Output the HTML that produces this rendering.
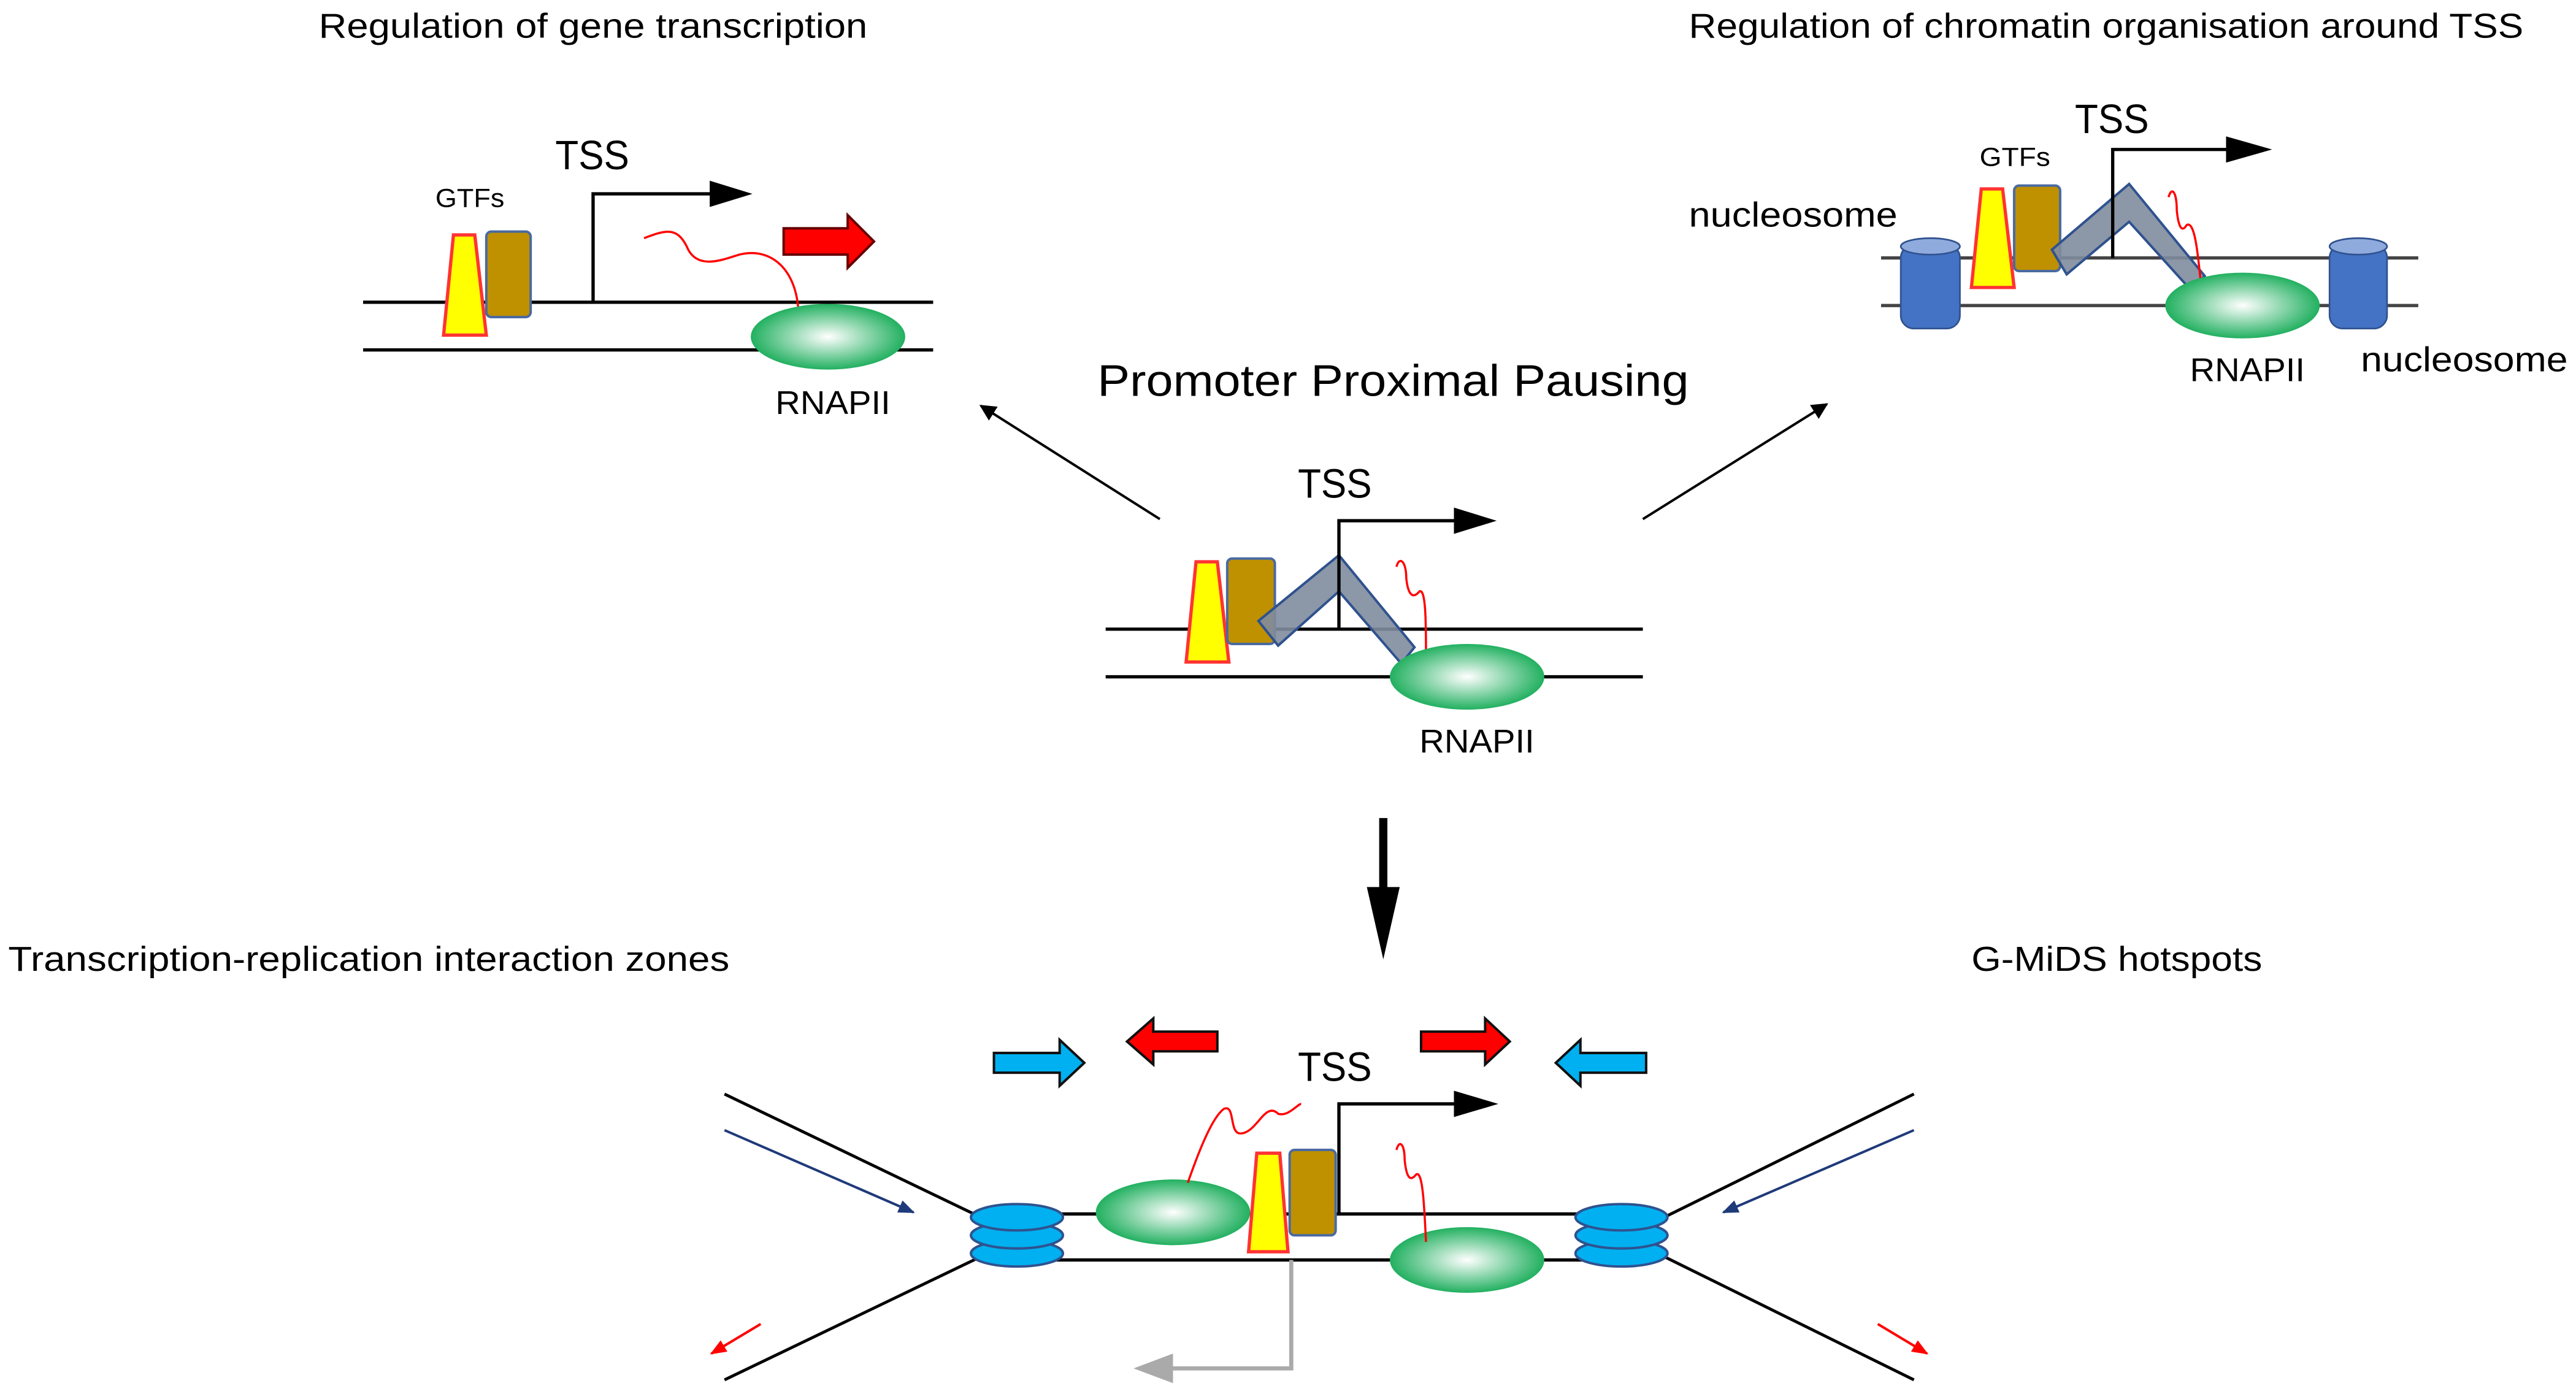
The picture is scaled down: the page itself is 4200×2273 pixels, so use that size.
<!DOCTYPE html>
<html><head><meta charset="utf-8"><style>
html,body{margin:0;padding:0;background:#fff;}
svg{display:block;}
text{font-family:"Liberation Sans",sans-serif;fill:#000;}
</style></head><body>
<svg width="4200" height="2273" viewBox="0 0 1568 848.6" xmlns="http://www.w3.org/2000/svg">
<defs>
<radialGradient id="g" cx="50%" cy="50%" r="50%"><stop offset="0" stop-color="#fff"/><stop offset="1" stop-color="#22b060"/></radialGradient>
<linearGradient id="cyl" x1="0" x2="1"><stop offset="0" stop-color="#4472c4"/><stop offset="1" stop-color="#4472c4"/></linearGradient>
<marker id="ah" markerWidth="10" markerHeight="10" refX="9" refY="5" orient="auto" markerUnits="userSpaceOnUse"><path d="M0,0 L10,5 L0,10 z" fill="#000"/></marker>
<marker id="ahn" markerWidth="10" markerHeight="10" refX="9" refY="5" orient="auto" markerUnits="userSpaceOnUse"><path d="M0,1 L10,5 L0,9 z" fill="#1f3a7a"/></marker>
<marker id="ahr" markerWidth="10" markerHeight="10" refX="9" refY="5" orient="auto" markerUnits="userSpaceOnUse"><path d="M0,1 L10,5 L0,9 z" fill="#f00"/></marker>
</defs>

<!-- titles -->
<text x="194" y="23" font-size="21" textLength="334" lengthAdjust="spacingAndGlyphs">Regulation of gene transcription</text>
<text x="1028" y="23" font-size="21" textLength="508" lengthAdjust="spacingAndGlyphs">Regulation of chromatin organisation around TSS</text>
<text x="668" y="241" font-size="27" textLength="360" lengthAdjust="spacingAndGlyphs">Promoter Proximal Pausing</text>
<text x="5" y="591" font-size="21" textLength="439" lengthAdjust="spacingAndGlyphs">Transcription-replication interaction zones</text>
<text x="1200" y="591" font-size="21" textLength="177" lengthAdjust="spacingAndGlyphs">G-MiDS hotspots</text>

<!-- ===== top-left ===== -->
<line x1="221" y1="184" x2="568" y2="184" stroke="#000" stroke-width="2"/>
<line x1="221" y1="213" x2="568" y2="213" stroke="#000" stroke-width="2"/>
<polygon points="276,143 289,143 296,204 270,204" fill="#ff0" stroke="#f33" stroke-width="2"/>
<rect x="296" y="141" width="27" height="52" rx="3" fill="#bf9000" stroke="#4a6aa0" stroke-width="1.5"/>
<text x="265" y="126" font-size="16" textLength="42" lengthAdjust="spacingAndGlyphs">GTFs</text>
<text x="338" y="103" font-size="25" textLength="45" lengthAdjust="spacingAndGlyphs">TSS</text>
<polyline points="361,184 361,118 436,118" fill="none" stroke="#000" stroke-width="2"/>
<polygon points="432,110 458,118 432,126" fill="#000"/>
<path d="M392,145 C405,140 412,138 418,150 C424,165 440,158 450,155 C470,150 485,165 486,190" fill="none" stroke="#f00" stroke-width="1.3"/>
<polygon points="477,139 516,139 516,131 532,147 516,163 516,155 477,155" fill="#f00" stroke="#600" stroke-width="1.5"/>
<ellipse cx="504" cy="205" rx="47" ry="20" fill="url(#g)"/>
<text x="472" y="252" font-size="20" textLength="70" lengthAdjust="spacingAndGlyphs">RNAPII</text>

<!-- diagonal arrows -->
<line x1="706" y1="316" x2="597" y2="247" stroke="#000" stroke-width="1.5" marker-end="url(#ah)"/>
<line x1="1000" y1="316" x2="1112" y2="246" stroke="#000" stroke-width="1.5" marker-end="url(#ah)"/>

<!-- ===== center ===== -->
<line x1="673" y1="383" x2="1000" y2="383" stroke="#000" stroke-width="2"/>
<line x1="673" y1="412" x2="1000" y2="412" stroke="#000" stroke-width="2"/>
<polygon points="728,342 741,342 748,403 722,403" fill="#ff0" stroke="#f33" stroke-width="2"/>
<rect x="747" y="340" width="29" height="52" rx="3" fill="#bf9000" stroke="#4a6aa0" stroke-width="1.5"/>
<polygon points="766,378 815,338 861,394 853,404 815,360 778,393" fill="#7f8c9d" fill-opacity="0.9" stroke="#2f528f" stroke-width="1.5"/>
<text x="790" y="303" font-size="25" textLength="45" lengthAdjust="spacingAndGlyphs">TSS</text>
<polyline points="815,383 815,317 888,317" fill="none" stroke="#000" stroke-width="2"/>
<polygon points="885,309 911,317 885,325" fill="#000"/>
<path d="M850,345 C852,338 856,342 856,352 C857,362 860,365 864,360 C868,358 868,380 868,400" fill="none" stroke="#f00" stroke-width="1.3"/>
<ellipse cx="893" cy="412" rx="47" ry="20" fill="url(#g)"/>
<text x="864" y="458" font-size="20" textLength="70" lengthAdjust="spacingAndGlyphs">RNAPII</text>

<!-- big down arrow -->
<line x1="842" y1="498" x2="842" y2="545" stroke="#000" stroke-width="5"/>
<polygon points="832,540 852,540 842,584" fill="#000"/>

<!-- ===== top-right ===== -->
<line x1="1145" y1="157" x2="1472" y2="157" stroke="#444" stroke-width="2"/>
<line x1="1145" y1="186" x2="1472" y2="186" stroke="#444" stroke-width="2"/>
<g>
<rect x="1157" y="149" width="36" height="51" rx="8" fill="#4472c4" stroke="#2f528f" stroke-width="1"/>
<ellipse cx="1175" cy="150" rx="18" ry="5" fill="#8faadc" stroke="#2f528f" stroke-width="1"/>
<rect x="1418" y="149" width="35" height="51" rx="8" fill="#4472c4" stroke="#2f528f" stroke-width="1"/>
<ellipse cx="1435.5" cy="150" rx="17.5" ry="5" fill="#8faadc" stroke="#2f528f" stroke-width="1"/>
</g>
<polygon points="1206,115 1219,115 1226,175 1200,175" fill="#ff0" stroke="#f33" stroke-width="2"/>
<rect x="1226" y="113" width="28" height="52" rx="3" fill="#bf9000" stroke="#4a6aa0" stroke-width="1.5"/>
<polygon points="1249,152 1296,112 1342,168 1334,177 1296,135 1258,167" fill="#7f8c9d" fill-opacity="0.9" stroke="#2f528f" stroke-width="1.5"/>
<text x="1205" y="101" font-size="16" textLength="43" lengthAdjust="spacingAndGlyphs">GTFs</text>
<text x="1263" y="81" font-size="25" textLength="45" lengthAdjust="spacingAndGlyphs">TSS</text>
<polyline points="1286,157 1286,91 1358,91" fill="none" stroke="#000" stroke-width="2"/>
<polygon points="1355,83 1383,91 1355,99" fill="#000"/>
<path d="M1320,120 C1322,113 1325,117 1325,128 C1326,138 1328,142 1331,137 C1336,134 1338,155 1340,176" fill="none" stroke="#f00" stroke-width="1.3"/>
<ellipse cx="1365" cy="186" rx="47" ry="20" fill="url(#g)"/>
<text x="1333" y="232" font-size="20" textLength="70" lengthAdjust="spacingAndGlyphs">RNAPII</text>
<text x="1028" y="138" font-size="21" textLength="127" lengthAdjust="spacingAndGlyphs">nucleosome</text>
<text x="1437" y="226" font-size="21" textLength="126" lengthAdjust="spacingAndGlyphs">nucleosome</text>

<!-- ===== bottom ===== -->
<!-- block arrows -->
<polygon points="605,641 645,641 645,633 660,647 645,661 645,653 605,653" fill="#00b0f0" stroke="#111" stroke-width="1.5"/>
<polygon points="741,628 702,628 702,620 686,634 702,648 702,640 741,640" fill="#f00" stroke="#111" stroke-width="1.5"/>
<polygon points="865,628 904,628 904,620 919,634 904,648 904,640 865,640" fill="#f00" stroke="#111" stroke-width="1.5"/>
<polygon points="1002,641 962,641 962,633 947,647 962,661 962,653 1002,653" fill="#00b0f0" stroke="#111" stroke-width="1.5"/>
<text x="790" y="658" font-size="25" textLength="45" lengthAdjust="spacingAndGlyphs">TSS</text>

<!-- fork lines -->
<line x1="441" y1="666" x2="597" y2="741" stroke="#000" stroke-width="1.8"/>
<line x1="441" y1="840" x2="597" y2="765" stroke="#000" stroke-width="1.8"/>
<line x1="1013" y1="741" x2="1165" y2="666" stroke="#000" stroke-width="1.8"/>
<line x1="1013" y1="765" x2="1165" y2="840" stroke="#000" stroke-width="1.8"/>
<line x1="630" y1="739" x2="975" y2="739" stroke="#000" stroke-width="2"/>
<line x1="630" y1="767" x2="975" y2="767" stroke="#000" stroke-width="2"/>
<line x1="441" y1="688" x2="556" y2="738" stroke="#1f3a7a" stroke-width="1.5" marker-end="url(#ahn)"/>
<line x1="1165" y1="688" x2="1049" y2="738" stroke="#1f3a7a" stroke-width="1.5" marker-end="url(#ahn)"/>
<line x1="463" y1="806" x2="433" y2="824" stroke="#f00" stroke-width="1.5" marker-end="url(#ahr)"/>
<line x1="1143" y1="806" x2="1173" y2="824" stroke="#f00" stroke-width="1.5" marker-end="url(#ahr)"/>

<!-- stacked blue -->
<g fill="#00b0f0" stroke="#2f528f" stroke-width="1.5">
<ellipse cx="619" cy="763" rx="28" ry="8"/><ellipse cx="619" cy="752" rx="28" ry="8"/><ellipse cx="619" cy="741" rx="28" ry="8"/>
<ellipse cx="987" cy="763" rx="28" ry="8"/><ellipse cx="987" cy="752" rx="28" ry="8"/><ellipse cx="987" cy="741" rx="28" ry="8"/>
</g>

<!-- grey arrow -->
<polyline points="786,767 786,833 712,833" fill="none" stroke="#aaa" stroke-width="2.5"/>
<polygon points="714,824 690,833 714,842" fill="#aaa"/>

<ellipse cx="714" cy="738" rx="47" ry="20" fill="url(#g)"/>
<ellipse cx="893" cy="767" rx="47" ry="20" fill="url(#g)"/>
<polygon points="765,702 779,702 784,762 760,762" fill="#ff0" stroke="#f33" stroke-width="2"/>
<rect x="785" y="700" width="28" height="52" rx="3" fill="#bf9000" stroke="#4a6aa0" stroke-width="1.5"/>
<polyline points="815,739 815,672 888,672" fill="none" stroke="#000" stroke-width="2"/>
<polygon points="885,664 912,672 885,680" fill="#000"/>
<path d="M723,720 C730,700 738,680 745,675 C752,672 748,690 755,690 C765,690 770,670 778,678 C784,680 790,672 792,672" fill="none" stroke="#f00" stroke-width="1.3"/>
<path d="M850,700 C852,693 855,697 855,706 C856,716 858,720 862,715 C866,712 867,735 868,756" fill="none" stroke="#f00" stroke-width="1.3"/>
</svg>
</body></html>
